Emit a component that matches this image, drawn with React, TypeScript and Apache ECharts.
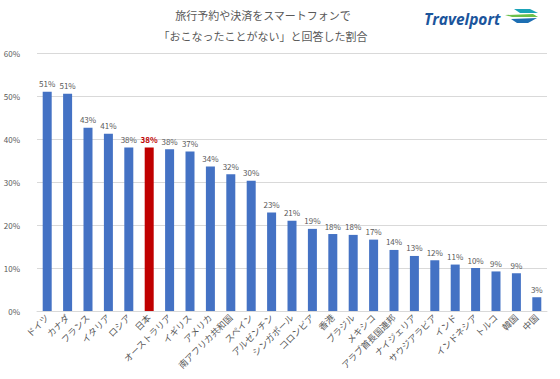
import React, { useEffect, useRef } from "react";
import * as echarts from "echarts";

const categories = [
  "ドイツ", "カナダ", "フランス", "イタリア", "ロシア", "日本", "オーストラリア", "イギリス",
  "アメリカ", "南アフリカ共和国", "スペイン", "アルゼンチン", "シンガポール", "コロンビア", "香港",
  "ブラジル", "メキシコ", "アラブ首長国連邦", "ナイジェリア", "サウジアラビア", "インド",
  "インドネシア", "トルコ", "韓国", "中国",
];
const values = [
  51.0, 50.5, 42.6, 41.2, 38.0, 38.0, 37.6, 37.1, 33.6, 31.8, 30.3, 22.9, 21.0, 19.1, 17.9,
  17.7, 16.6, 14.2, 12.8, 11.8, 10.8, 10.0, 9.2, 8.8, 3.2,
];
const highlight = "日本";
const titleLines = ["旅行予約や決済をスマートフォンで", "「おこなったことがない」と回答した割合"];
const yTicks = { min: 0, max: 60, interval: 10 };

const FONT = "'Noto Sans CJK JP', 'Noto Sans', sans-serif";

export default function App() {
  const ref = useRef<HTMLDivElement>(null);
  useEffect(() => {
    if (!ref.current) return;
    const chart = echarts.init(ref.current, null, { renderer: "svg" });
    const data = values.map((v, i) => {
      const hl = categories[i] === highlight;
      return {
        value: v,
        itemStyle: { color: hl ? "#c00000" : "#4472c4" },
        label: hl ? { color: "#c00000", fontWeight: "bold" } : undefined,
      };
    });
    chart.setOption({
      animation: false,
      textStyle: { fontFamily: FONT },
      grid: { left: 37, right: 13, top: 53, bottom: 68, containLabel: false },
      xAxis: {
        type: "category",
        data: categories,
        axisLine: { lineStyle: { color: "#d9d9d9" } },
        axisTick: { show: false },
        axisLabel: {
          interval: 0,
          rotate: 45,
          fontSize: 9,
          color: "#595959",
          margin: 5,
          fontFamily: FONT,
        },
      },
      yAxis: {
        type: "value",
        min: yTicks.min,
        max: yTicks.max,
        interval: yTicks.interval,
        axisLine: { show: false },
        axisTick: { show: false },
        splitLine: { lineStyle: { color: "#d9d9d9" } },
        axisLabel: {
          formatter: "{value}%",
          fontSize: 8,
          color: "#595959",
          margin: 17,
          fontFamily: FONT,
        },
      },
      series: [
        {
          type: "bar",
          data,
          barWidth: 9,
          label: {
            show: true,
            position: "top",
            distance: 4,
            fontSize: 8,
            color: "#595959",
            fontFamily: FONT,
            formatter: (p: any) => Math.round(p.value) + "%",
          },
        },
      ],
      graphic: [
        {
          type: "text",
          x: 263,
          y: 15,
          style: {
            text: titleLines[0],
            fontSize: 11,
            fill: "#595959",
            align: "center",
            verticalAlign: "middle",
            fontFamily: FONT,
          },
        },
        {
          type: "text",
          x: 263,
          y: 36,
          style: {
            text: titleLines[1],
            fontSize: 11,
            fill: "#595959",
            align: "center",
            verticalAlign: "middle",
            fontFamily: FONT,
          },
        },
        {
          type: "text",
          x: 424,
          y: 19,
          style: {
            text: "Travelport",
            fontSize: 15.5,
            fontWeight: "bold",
            fontStyle: "italic",
            fill: "#1b559c",
            align: "left",
            verticalAlign: "middle",
            fontFamily: "'Open Sans', 'DejaVu Sans', sans-serif",
          },
        },
        {
          type: "polygon",
          shape: { points: [[514, 9], [530, 9], [538, 13], [520, 13]] },
          style: { fill: "#1ba3b8" },
        },
        {
          type: "polygon",
          shape: { points: [[505, 15], [533, 14], [538, 17], [512, 17]] },
          style: { fill: "#6cc04a" },
        },
        {
          type: "polygon",
          shape: { points: [[511, 19], [537, 18], [528, 23], [517, 23]] },
          style: { fill: "#1d6fb3" },
        },
      ],
    });
    return () => chart.dispose();
  }, []);
  return (
    <div
      ref={ref}
      style={{ position: "absolute", left: 0, top: 0, width: 560, height: 379 }}
    />
  );
}
